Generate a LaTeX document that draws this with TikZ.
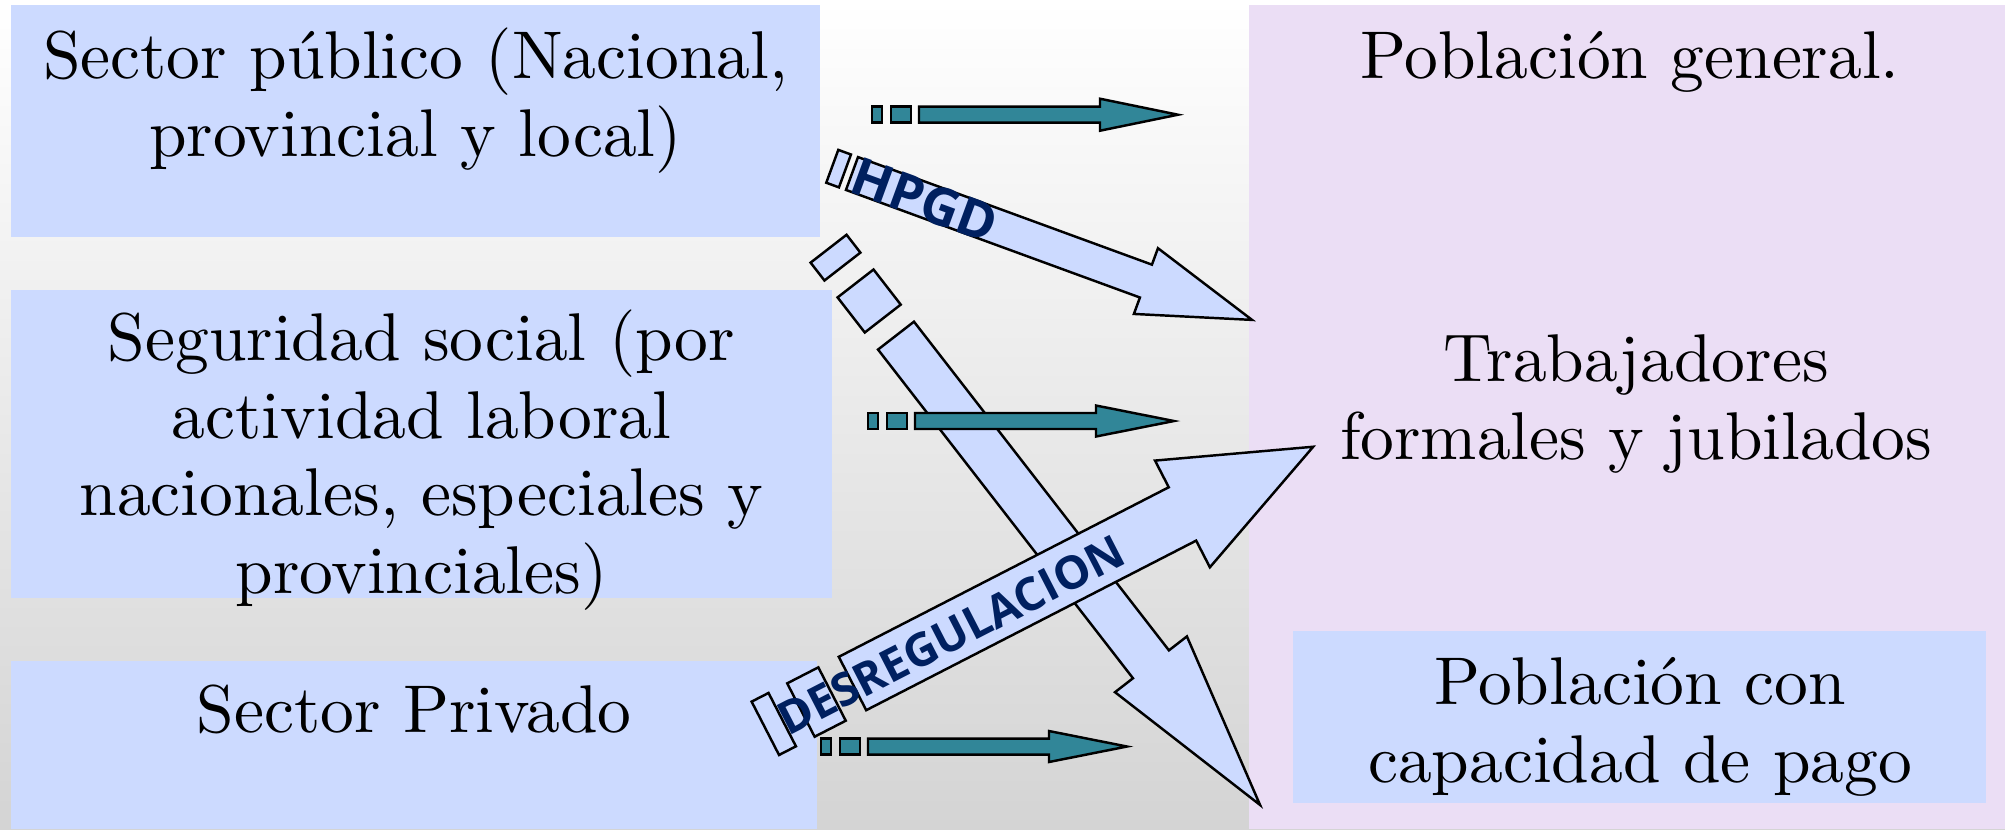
\documentclass[tikz,border=0pt]{standalone}
\usepackage{fontspec}
\setmainfont{lmroman10-regular}[Extension=.otf]
\newfontfamily\labelfont{Open Sans}
\usepackage{tikz}
\usetikzlibrary{shapes}

\definecolor{panelblue}{RGB}{204,218,255}
\definecolor{panelpurple}{RGB}{235,222,245}
\definecolor{arrowteal}{RGB}{49,134,152}
\definecolor{labelnavy}{RGB}{0,32,96}
\definecolor{bggray}{RGB}{212,212,212}
\definecolor{bgmid}{RGB}{240,240,240}

\tikzset{
  panel text/.style={font=\fontsize{19.2}{22}\selectfont, align=center, inner sep=0pt, anchor=base},
  arrow label/.style={text=labelnavy, inner sep=0pt},
  bluearrow/.style={fill=panelblue, draw=black, line width=0.7pt, line join=miter},
  tealarrow/.style={fill=arrowteal, draw=black, line width=0.7pt, line join=miter}
}

% #1 start, #2 angle, #3 shaft, #4 head, #5 half width, #6 head half width, #7 stripes, #8 style
\newcommand{\stripedarrow}[8]{%
  \begin{scope}[shift={(#1)},rotate=#2]
    \foreach \a/\b in {#7}
      \draw[#8] (\a,-#5) rectangle (\b,#5);
    \draw[#8] (0,-#5) -- (#3,-#5) -- (#3,-#6) -- ({#3+#4},0) -- (#3,#6) -- (#3,#5) -- (0,#5) -- cycle;
  \end{scope}}

\begin{document}
\begin{tikzpicture}[x=0.01cm, y=-0.01cm]
    \useasboundingbox (0,0) rectangle (2005,829);
    \shade[top color=white, middle color=bgmid, bottom color=bggray] (0,0) rectangle (2005,829);

    \fill[panelblue] (11,5) rectangle (820,237);
    \fill[panelblue] (11,290) rectangle (832,598);
    \fill[panelblue] (11,661) rectangle (817,829);
    \fill[panelpurple] (1249,5) rectangle (2005,829);
    \fill[panelblue] (1293,631) rectangle (1986,803);

    % anchor=base sits on the last line
    \node[panel text] (publico) at (415.5,156) {Sector público (Nacional,\\provincial y local)};
    \node[panel text] (social) at (421.5,593) {Seguridad social (por\\actividad laboral\\nacionales, especiales y\\provinciales)};
    \node[panel text] (privado) at (414,732) {Sector Privado};
    \node[panel text] (general) at (1630,78) {Población general.};
    \node[panel text] (formales) at (1636,459) {Trabajadores\\formales y jubilados};
    \node[panel text] (pago) at (1640,782) {Población con\\capacidad de pago};

    \stripedarrow{852,173.5}{-20.1}{313}{113}{17.5}{35}{-21/-7.5}{bluearrow}
    \stripedarrow{896,335.6}{-52.2}{416}{178}{22.75}{45.5}{-110/-87.4,-66/-21.6}{bluearrow}

    \stripedarrow{919,114.7}{0}{181}{78}{8}{16}{-47/-37,-28/-8}{tealarrow}
    \stripedarrow{915,421}{0}{181}{78}{8}{15.5}{-47/-37,-28/-8}{tealarrow}
    \stripedarrow{868,746.5}{0}{181}{78}{8}{15.5}{-47/-37,-28/-8}{tealarrow}

    \stripedarrow{852.5,683.5}{27.2}{371}{147}{30}{60}{-98/-79,-58/-23}{bluearrow}

    \node[arrow label, font=\labelfont\bfseries\fontsize{15}{15}\selectfont, rotate=-20.1] (hpgd) at (925,200) {HPGD};
    \node[arrow label, font=\labelfont\bfseries\fontsize{13}{13}\selectfont, rotate=27.2] (desreg) at (951,635) {DESREGULACION};
  \end{tikzpicture}
\end{document}
